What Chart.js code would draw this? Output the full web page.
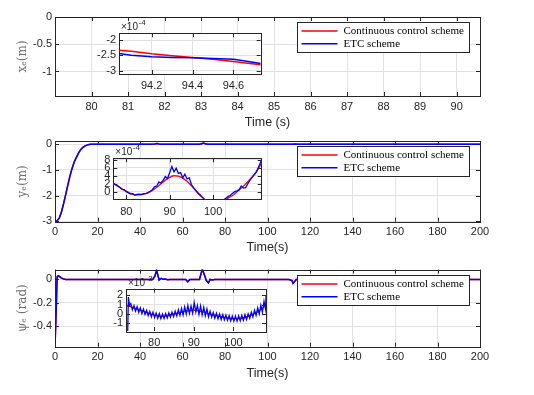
<!DOCTYPE html>
<html>
<head>
<meta charset="utf-8">
<script src="https://cdn.jsdelivr.net/npm/chart.js@4.4.0/dist/chart.umd.min.js"></script>
<style>
    body { margin: 0; background: #fff; }
    #wrap { position: relative; width: 534px; height: 395px; overflow: hidden; }
    canvas { position: absolute; }
</style>
</head>
<body>
<div id="wrap">
    <canvas id="main1" width="534" height="130" style="left:0;top:0"></canvas>
    <canvas id="main2" width="534" height="130" style="left:0;top:130px"></canvas>
    <canvas id="main3" width="534" height="135" style="left:0;top:260px"></canvas>
    <canvas id="inset1" width="190" height="77" style="left:80px;top:18px"></canvas>
    <canvas id="inset2" width="195" height="75" style="left:75px;top:143px"></canvas>
    <canvas id="inset3" width="190" height="75" style="left:85px;top:273px"></canvas>
</div>
<script>
// ---------- data ----------
// x_e, zoomed window 79..90.6 s
const xeTime = [79, 80, 81, 82, 83, 84, 85, 86, 87, 88, 89, 90, 91];
const xeRed  = [-0.00021, -0.00023, -0.00025, -0.00024, -0.00022, -0.00023, -0.00026, -0.00025, -0.00024, -0.00022, -0.00023, -0.00025, -0.00026];
const xeBlue = [-0.00024, -0.00022, -0.00026, -0.00023, -0.00025, -0.00022, -0.00024, -0.00026, -0.00023, -0.00025, -0.00024, -0.00022, -0.00025];
const xeTicksX = [80, 81, 82, 83, 84, 85, 86, 87, 88, 89, 90];
const xeTicksY = [0, -0.5, -1];

// x_e inset (units of 1e-4)
const xeInTime = [94.04, 94.1, 94.2, 94.3, 94.4, 94.5, 94.6, 94.65, 94.734];
const xeInRed  = [-2.33, -2.37, -2.45, -2.51, -2.57, -2.63, -2.70, -2.74, -2.81];
const xeInBlue = [-2.44, -2.50, -2.55, -2.57, -2.58, -2.60, -2.63, -2.68, -2.77];
const xeInTicksX = [94.2, 94.4, 94.6];
const xeInTicksY = [-2, -2.5, -3];

// y_e
const yeTime = [0, 1, 2, 3, 4, 5, 6, 7, 8, 9, 10, 11, 12, 13, 14, 15, 16, 17, 18, 20, 30, 40, 46, 47, 48, 49, 50, 55, 60, 68, 69, 70, 71, 72, 80, 100, 112, 113, 114, 120, 150, 200];
const yeRed  = [-3, -2.98, -2.88, -2.65, -2.33, -1.97, -1.6, -1.25, -0.95, -0.7, -0.52, -0.35, -0.22, -0.13, -0.07, -0.03, -0.01, 0, 0, 0, 0, 0, 0, 0.01, 0.03, 0.01, 0, 0, 0, 0, 0.02, 0.05, 0.01, 0, 0, 0, 0, 0.01, 0, 0, 0, 0];
const yeBlue = [-3, -2.98, -2.88, -2.65, -2.33, -1.97, -1.6, -1.25, -0.95, -0.7, -0.52, -0.35, -0.22, -0.13, -0.07, -0.03, -0.01, 0, 0, 0, 0, 0, 0, 0.01, 0.03, 0.01, 0, 0, 0, 0, 0.02, 0.05, 0.01, 0, 0, 0, 0, 0.01, 0, 0, 0, 0];
const yeTicksX = [0, 20, 40, 60, 80, 100, 120, 140, 160, 180, 200];
const yeTicksY = [0, -1, -2, -3];

// y_e inset (units of 1e-4)
const yeInTimeRed = [77, 78, 79, 80, 81, 82, 83, 84, 85, 86, 87, 88, 89, 90, 91, 92, 93, 94, 95, 96, 97, 98, 99, 100, 101, 102, 103, 104, 105, 106, 107, 108, 109, 110, 111.2];
const yeInRed = [2.0, 1.4, 0.7, 0.1, -0.4, -0.8, -0.8, -0.6, -0.3, 0.3, 1.1, 2.0, 2.9, 3.6, 4.0, 3.9, 3.4, 2.6, 1.5, 0.3, -0.8, -1.9, -2.7, -3.1, -2.9, -2.4, -1.9, -1.3, -0.5, 0.4, 1.4, 2.5, 3.7, 5.1, 7.2];
const yeInTimeBlue = [77, 77.5, 78, 78.5, 79, 79.5, 80, 80.5, 81, 81.5, 82, 82.5, 83, 83.5, 84, 84.5, 85, 85.5, 86, 86.5, 87, 87.5, 88, 88.5, 89, 89.5, 90, 90.5, 91, 91.5, 92, 92.5, 93, 93.5, 94, 94.5, 95, 95.5, 96, 96.5, 97, 97.5, 98, 99, 100, 101, 102, 103, 103.5, 104, 104.5, 105, 105.5, 106, 106.5, 107, 107.5, 108, 108.5, 109, 109.5, 110, 110.5, 111.2];
const yeInBlue = [2.2, 1.8, 1.5, 1.1, 0.6, 0.5, 0.0, -0.3, -0.6, -0.5, -0.9, -0.7, -0.6, -0.7, -0.5, -0.5, -0.2, 0.1, 0.5, 1.2, 1.4, 2.4, 2.2, 2.9, 3.8, 3.3, 4.8, 6.3, 5.0, 5.9, 4.6, 4.8, 3.5, 4.4, 3.2, 3.5, 1.8, 1.0, 0.3, -0.4, -0.9, -1.4, -1.9, -2.8, -3.2, -3.0, -2.4, -1.6, -1.2, -0.9, -0.4, 0.0, 0.2, 0.5, 1.4, 0.9, 1.0, 2.0, 2.9, 3.6, 4.3, 5.0, 6.3, 8.0];
const yeInTicksX = [80, 90, 100];
const yeInTicksY = [0, 2, 4, 6, 8];

// psi_e
const psiTime = [0, 0.5, 1, 1.5, 2, 3, 4, 5, 10, 20, 40, 46, 47, 47.8, 48.5, 49, 50, 51, 52, 53, 54, 60, 61.5, 62.5, 63.5, 67, 68, 69.3, 70.5, 71.2, 72.2, 73, 74, 75, 80, 100, 110, 111.5, 112, 112.7, 113.5, 120, 127, 127.5, 128, 150, 200];
const psiRed  = [-0.57, -0.3, 0.02, 0.028, 0.024, 0.012, 0.004, 0, 0, 0, 0, 0, 0.025, 0.075, 0.03, -0.004, 0.008, 0.002, 0.002, -0.002, 0, 0, 0, -0.018, 0, 0, 0, 0.085, 0.03, -0.008, -0.028, 0, -0.004, 0, 0, 0, 0, -0.008, -0.03, -0.018, 0, 0, 0, 0.004, 0, 0, 0];
const psiBlue = [-0.57, -0.3, 0.025, 0.032, 0.028, 0.014, 0.005, 0, 0, 0, 0, 0, 0.03, 0.08, 0.03, -0.006, 0.01, 0.002, 0.004, -0.003, 0, 0, 0, -0.02, 0, 0, 0, 0.09, 0.03, -0.01, -0.03, 0, -0.005, 0, 0, 0, 0, -0.01, -0.035, -0.02, 0, 0, 0, 0.006, 0, 0, 0];
const psiTicksX = [0, 20, 40, 60, 80, 100, 120, 140, 160, 180, 200];
const psiTicksY = [0, -0.2, -0.4];

// psi_e inset (units of 1e-3)
const psiInTimeRed = [73, 74, 75, 76, 77, 78, 79, 80, 81, 82, 83, 84, 85, 86, 87, 88, 89, 90, 91, 92, 93, 94, 95, 96, 97, 98, 99, 100, 101, 102, 103, 104, 105, 106, 107, 108, 108.2];
const psiInRed = [0.85, 0.78, 0.62, 0.48, 0.33, 0.18, 0.03, -0.1, -0.2, -0.25, -0.2, -0.1, 0.0, 0.1, 0.2, 0.3, 0.35, 0.4, 0.35, 0.25, 0.15, 0.0, -0.1, -0.2, -0.3, -0.38, -0.45, -0.5, -0.5, -0.45, -0.35, -0.2, 0.0, 0.2, 0.5, 0.9, 1.0];
const psiInTimeBlue = [73.0, 73.3, 73.5, 73.8, 74.1, 74.5, 74.9, 75.3, 75.7, 76.1, 76.5, 76.9, 77.3, 77.7, 78.1, 78.5, 78.9, 79.3, 79.7, 80.1, 80.5, 80.9, 81.3, 81.7, 82.1, 82.5, 82.9, 83.3, 83.7, 84.1, 84.5, 84.9, 85.3, 85.7, 86.1, 86.5, 86.9, 87.3, 87.7, 88.1, 88.5, 88.9, 89.3, 89.7, 90.1, 90.5, 90.9, 91.3, 91.7, 92.1, 92.5, 92.9, 93.3, 93.7, 94.1, 94.5, 94.9, 95.3, 95.7, 96.1, 96.5, 96.9, 97.3, 97.7, 98.1, 98.5, 98.9, 99.3, 99.7, 100.1, 100.5, 100.9, 101.3, 101.7, 102.1, 102.5, 102.9, 103.3, 103.7, 104.1, 104.5, 104.9, 105.3, 105.7, 106.1, 106.5, 106.9, 107.3, 107.7, 108.1, 108.2];
const psiInBlue = [-2.5, -2.5, 1.8, 0.9, 1.1, 0.45, 0.9, 0.3, 0.78, 0.18, 0.65, 0.05, 0.52, -0.05, 0.4, -0.18, 0.28, -0.3, 0.2, -0.38, 0.1, -0.45, 0.05, -0.5, 0.0, -0.48, 0.05, -0.42, 0.12, -0.35, 0.2, -0.28, 0.3, -0.2, 0.45, -0.15, 0.6, -0.1, 0.75, 0.0, 0.9, 0.05, 0.85, 0.1, 1.2, 0.2, 0.9, -0.05, 0.85, -0.1, 0.7, -0.2, 0.55, -0.3, 0.3, -0.35, 0.15, -0.45, 0.08, -0.5, 0.0, -0.58, -0.05, -0.62, -0.12, -0.68, -0.18, -0.72, -0.22, -0.75, -0.22, -0.75, -0.2, -0.72, -0.15, -0.66, -0.08, -0.58, 0.02, -0.45, 0.18, -0.3, 0.4, -0.15, 0.65, 0.0, 0.95, 0.2, 1.35, 0.5, 1.9];
const psiInTicksX = [80, 90, 100];
const psiInTicksY = [2, 1, 0, -1];

// ---------- look ----------
const RED = '#ff0000';
const BLUE = '#0000ff';
const INK = '#262626';
const GRID = '#e2e2e2';
const tickFont = { family: '"Liberation Sans", Arial, sans-serif', size: 11 };

function pts(xs, ys) {
    return xs.map((x, i) => ({ x: x, y: ys[i] }));
}

// frame plugin: white plot area (insets), matlab box with inward ticks,
// boxed legend and the x10^n exponent label
const frame = {
    id: 'frame',
    beforeDraw(chart, args, opts) {
        if (!opts.fill) return;
        const a = chart.chartArea, ctx = chart.ctx;
        ctx.save();
        ctx.fillStyle = '#fff';
        ctx.fillRect(a.left, a.top, a.right - a.left, a.bottom - a.top);
        ctx.restore();
    },
    beforeDatasetsDraw(chart) {
        const a = chart.chartArea, ctx = chart.ctx;
        const sx = chart.scales.x, sy = chart.scales.y;
        ctx.save();
        ctx.strokeStyle = INK;
        ctx.lineWidth = 1;
        ctx.beginPath();
        sx.ticks.forEach(t => {
            const p = Math.round(sx.getPixelForValue(t.value)) + 0.5;
            ctx.moveTo(p, a.bottom); ctx.lineTo(p, a.bottom - 4);
            ctx.moveTo(p, a.top); ctx.lineTo(p, a.top + 4);
        });
        sy.ticks.forEach(t => {
            const p = Math.round(sy.getPixelForValue(t.value)) + 0.5;
            ctx.moveTo(a.left, p); ctx.lineTo(a.left + 4, p);
            ctx.moveTo(a.right, p); ctx.lineTo(a.right - 4, p);
        });
        ctx.stroke();
        ctx.strokeRect(Math.round(a.left) + 0.5, Math.round(a.top) + 0.5,
            Math.round(a.right - a.left), Math.round(a.bottom - a.top));
        ctx.restore();
    },
    afterDraw(chart, args, opts) {
        const a = chart.chartArea, ctx = chart.ctx;
        ctx.save();
        if (opts.legend) {
            const w = 172, h = 30;
            const x = Math.round(a.right - 11 - w) + 0.5, y = Math.round(a.top + 5) + 0.5;
            ctx.fillStyle = '#fff';
            ctx.fillRect(x, y, w, h);
            ctx.strokeStyle = INK;
            ctx.lineWidth = 1;
            ctx.strokeRect(x, y, w, h);
            chart.data.datasets.forEach((ds, i) => {
                const ly = y + 8.5 + i * 12.7;
                ctx.strokeStyle = ds.borderColor;
                ctx.lineWidth = 1.5;
                ctx.beginPath();
                ctx.moveTo(x + 4, ly);
                ctx.lineTo(x + 40, ly);
                ctx.stroke();
                ctx.fillStyle = '#000';
                ctx.font = '11px "Liberation Serif", "Times New Roman", serif';
                ctx.textBaseline = 'middle';
                ctx.fillText(ds.label, x + 46, ly);
            });
        }
        if (opts.exponent) {
            ctx.fillStyle = INK;
            ctx.textBaseline = 'alphabetic';
            ctx.font = '10px "Liberation Sans", Arial, sans-serif';
            const bx = a.left + 2, by = a.top - 3;
            ctx.fillText('\u00d710', bx, by);
            const w = ctx.measureText('\u00d710').width;
            ctx.font = '8px "Liberation Sans", Arial, sans-serif';
            ctx.fillText(opts.exponent, bx + w + 0.5, by - 5);
        }
        ctx.restore();
    }
};

// builds one axes (main plot or inset)
function makeAxes(id, cfg) {
    const ctx = document.getElementById(id).getContext('2d');
    return new Chart(ctx, {
        type: 'line',
        data: {
            datasets: [{
                label: 'Continuous control scheme',
                data: cfg.red,
                borderColor: RED,
                borderWidth: cfg.lw,
                pointRadius: 0,
                cubicInterpolationMode: cfg.smooth ? 'monotone' : 'default',
                order: 1
            }, {
                label: 'ETC scheme',
                data: cfg.blue,
                borderColor: BLUE,
                borderWidth: cfg.lw,
                pointRadius: 0,
                order: 0
            }]
        },
        options: {
            responsive: false,
            animation: false,
            events: [],
            layout: { padding: cfg.pad },
            plugins: {
                legend: { display: false },
                tooltip: { enabled: false },
                frame: { fill: cfg.fill, legend: cfg.legend, exponent: cfg.exponent }
            },
            scales: {
                x: {
                    type: 'linear',
                    min: cfg.xRange[0],
                    max: cfg.xRange[1],
                    afterBuildTicks: s => { s.ticks = cfg.xTicks.map(v => ({ value: v })); },
                    afterFit: s => { s.height = cfg.xHeight; },
                    border: { display: false },
                    grid: { color: GRID, drawTicks: false },
                    ticks: {
                        autoSkip: false, maxRotation: 0, padding: cfg.xPad,
                        color: INK, font: tickFont,
                        callback: v => String(v)
                    },
                    title: cfg.xTitle ? {
                        display: true, text: cfg.xTitle, color: INK,
                        font: { family: '"Liberation Sans", Arial, sans-serif', size: 12.5 },
                        padding: { top: 0, bottom: cfg.xTitlePad }
                    } : { display: false }
                },
                y: {
                    type: 'linear',
                    min: cfg.yRange[0],
                    max: cfg.yRange[1],
                    afterBuildTicks: s => { s.ticks = cfg.yTicks.map(v => ({ value: v })); },
                    afterFit: s => { s.width = cfg.yWidth; },
                    border: { display: false },
                    grid: { color: GRID, drawTicks: false },
                    ticks: {
                        autoSkip: false, padding: 3,
                        color: INK, font: tickFont,
                        callback: v => String(v)
                    },
                    title: cfg.yTitle ? {
                        display: true, text: cfg.yTitle, color: '#707070',
                        font: { family: '"DejaVu Serif", "Liberation Serif", serif', size: 12 },
                        padding: { top: 16, bottom: 0 }
                    } : { display: false }
                }
            }
        },
        plugins: [frame]
    });
}

// ---------- main plots ----------
makeAxes('main1', {
    red: pts(xeTime, xeRed), blue: pts(xeTime, xeBlue), lw: 2,
    pad: { left: 0, right: 54, top: 17, bottom: 0 },
    xRange: [79.0, 90.64], yRange: [-1.45, 0],
    xTicks: xeTicksX, yTicks: xeTicksY,
    xHeight: 34, xPad: 4, yWidth: 55,
    xTitle: 'Time (s)', xTitlePad: 0, yTitle: 'x\u2091(m)',
    legend: true
});

makeAxes('main2', {
    red: pts(yeTime, yeRed), blue: pts(yeTime, yeBlue), lw: 1.5,
    pad: { left: 0, right: 54, top: 11, bottom: 0 },
    xRange: [0, 200], yRange: [-3.02, 0.13],
    xTicks: yeTicksX, yTicks: yeTicksY,
    xHeight: 38.3, xPad: 4, yWidth: 55,
    xTitle: 'Time(s)', xTitlePad: 5, yTitle: 'y\u2091(m)',
    legend: true
});

makeAxes('main3', {
    red: pts(psiTime, psiRed), blue: pts(psiTime, psiBlue), lw: 1.5,
    pad: { left: 0, right: 54, top: 8.3, bottom: 0 },
    xRange: [0, 200], yRange: [-0.574, 0.084],
    xTicks: psiTicksX, yTicks: psiTicksY,
    xHeight: 48.3, xPad: 4, yWidth: 55,
    xTitle: 'Time(s)', xTitlePad: 13.5, yTitle: '\u03c8\u2091 (rad)',
    legend: true
});

// ---------- insets ----------
makeAxes('inset1', {
    red: pts(xeInTime, xeInRed), blue: pts(xeInTime, xeInBlue), lw: 1.5,
    pad: { left: 0, right: 9.3, top: 15.3, bottom: 0 },
    xRange: [94.04, 94.734], yRange: [-3.11, -1.78],
    xTicks: xeInTicksX, yTicks: xeInTicksY,
    xHeight: 21, xPad: 5, yWidth: 39,
    fill: true, exponent: '-4'
});

makeAxes('inset2', {
    red: pts(yeInTimeRed, yeInRed), blue: pts(yeInTimeBlue, yeInBlue), lw: 1.3, smooth: true,
    pad: { left: 0, right: 8.3, top: 15.3, bottom: 0 },
    xRange: [77, 111.2], yRange: [-1.85, 8.4],
    xTicks: yeInTicksX, yTicks: yeInTicksY,
    xHeight: 19, xPad: 6, yWidth: 38.3,
    fill: true, exponent: '-4'
});

makeAxes('inset3', {
    red: pts(psiInTimeRed, psiInRed), blue: pts(psiInTimeBlue, psiInBlue), lw: 1.3, smooth: true,
    pad: { left: 0, right: 9, top: 15.5, bottom: 0 },
    xRange: [72.9, 108.2], yRange: [-1.8, 2.7],
    xTicks: psiInTicksX, yTicks: psiInTicksY,
    xHeight: 17, xPad: 5, yWidth: 41,
    fill: true, exponent: '-3'
});
</script>
</body>
</html>
